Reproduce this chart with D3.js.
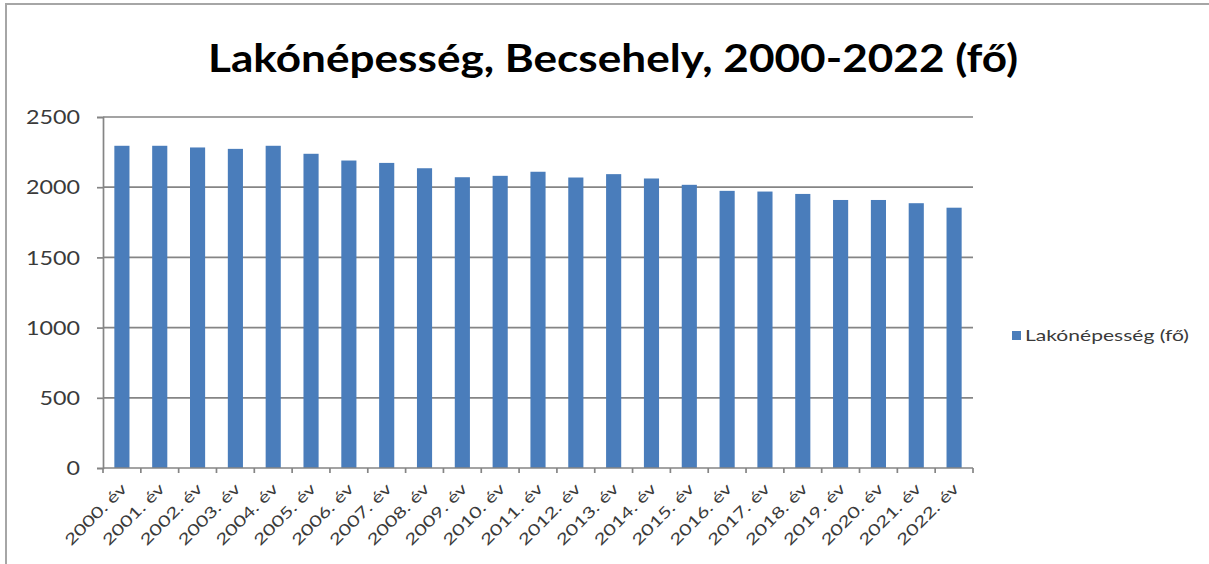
<!DOCTYPE html>
<html>
<head>
<meta charset="utf-8">
<script src="https://cdn.jsdelivr.net/npm/d3@7/dist/d3.min.js"></script>
<style>
  html, body { margin: 0; padding: 0; background: #fff; }
  svg { display: block; }
  text { font-family: Lato, "Open Sans", sans-serif; }
</style>
</head>
<body>
<svg id="chart" width="1209" height="564"></svg>
<script>
const title = "Lakónépesség, Becsehely, 2000-2022 (fő)";
const seriesName = "Lakónépesség (fő)";
const categories = ["2000. év","2001. év","2002. év","2003. év","2004. év","2005. év","2006. év","2007. év","2008. év","2009. év","2010. év","2011. év","2012. év","2013. év","2014. év","2015. év","2016. év","2017. év","2018. év","2019. év","2020. év","2021. év","2022. év"];
const values = [2295,2295,2283,2273,2295,2238,2190,2173,2135,2071,2081,2110,2069,2093,2062,2017,1974,1969,1952,1909,1909,1886,1854];
const yTicks = [0,500,1000,1500,2000,2500];

const svg = d3.select("#chart");
const W = 1209, H = 564;
const plot = {left: 103, right: 973, top: 117, bottom: 468};
const gridColor = "#858585";
const barColor = "#4a7dbb";
const textColor = "#3a3a3a";

// outer border
svg.append("rect").attr("x", 6).attr("y", 4).attr("width", W + 10).attr("height", H + 10)
  .attr("fill", "#fff").attr("stroke", "#a6a6a6").attr("stroke-width", 2);

const x = d3.scaleBand().domain(categories).range([plot.left, plot.right])
  .paddingInner(0.6).paddingOuter(0.3);
const y = d3.scaleLinear().domain([0, 2500]).range([plot.bottom, plot.top]);

// gridlines
svg.append("g").selectAll("line").data(yTicks.filter(d => d > 0)).join("line")
  .attr("x1", plot.left).attr("x2", plot.right)
  .attr("y1", d => y(d)).attr("y2", d => y(d))
  .attr("stroke", gridColor).attr("stroke-width", 1.7);

// bars
svg.append("g").selectAll("rect").data(values).join("rect")
  .attr("x", (d, i) => x(categories[i]))
  .attr("y", d => y(d))
  .attr("width", x.bandwidth())
  .attr("height", d => y(0) - y(d))
  .attr("fill", barColor);

// y axis
const yAxis = svg.append("g").attr("transform", `translate(${plot.left},0)`)
  .call(d3.axisLeft(y).tickValues(yTicks).tickSize(6).tickPadding(16).tickFormat(d3.format("d")));
yAxis.select(".domain").attr("stroke", gridColor).attr("stroke-width", 1.7);
yAxis.selectAll(".tick line").attr("stroke", gridColor).attr("stroke-width", 1.7);
const yLabels = yAxis.selectAll(".tick text").attr("fill", textColor).attr("font-size", 18.5).attr("dy", "0.36em");
let refLen = 0;
yLabels.each(function(d) { if (d === 2500) refLen = this.getComputedTextLength(); });
const sx = refLen > 0 ? 54 / refLen : 1.3;
yLabels.attr("transform", `scale(${sx},1)`).attr("x", -23 / sx);

// x axis
const xAxisG = svg.append("g").attr("transform", `translate(0,${plot.bottom})`);
xAxisG.append("line").attr("x1", plot.left).attr("x2", plot.right).attr("y1", 0).attr("y2", 0)
  .attr("stroke", gridColor).attr("stroke-width", 1.7);
const bounds = categories.map(c => x(c) - x.step() * x.paddingInner() / 2).concat([plot.right]);
xAxisG.selectAll("line.tk").data(bounds).join("line").attr("class", "tk")
  .attr("x1", d => d).attr("x2", d => d).attr("y1", 0).attr("y2", 5)
  .attr("stroke", gridColor).attr("stroke-width", 1.7);
xAxisG.selectAll("text").data(categories).join("text")
  .attr("transform", d => `translate(${x(d) + x.bandwidth() / 2 + 2},${18}) rotate(-45)`)
  .attr("text-anchor", "end").attr("dy", "0.35em")
  .attr("font-size", 15.5).attr("fill", textColor)
  .attr("textLength", 80).attr("lengthAdjust", "spacingAndGlyphs")
  .text(d => d);

// title
svg.append("text").attr("x", 208).attr("y", 72).attr("font-size", 39).attr("font-weight", "bold")
  .attr("fill", "#000").attr("textLength", 810).attr("lengthAdjust", "spacingAndGlyphs")
  .text(title);

// legend
const lg = svg.append("g").attr("transform", "translate(1012,336)");
lg.append("rect").attr("x", 0).attr("y", -5).attr("width", 9).attr("height", 9).attr("fill", barColor);
lg.append("text").attr("x", 13).attr("y", 0).attr("dy", "0.35em").attr("font-size", 15)
  .attr("fill", textColor).attr("textLength", 164).attr("lengthAdjust", "spacingAndGlyphs")
  .text(seriesName);
</script>
</body>
</html>
